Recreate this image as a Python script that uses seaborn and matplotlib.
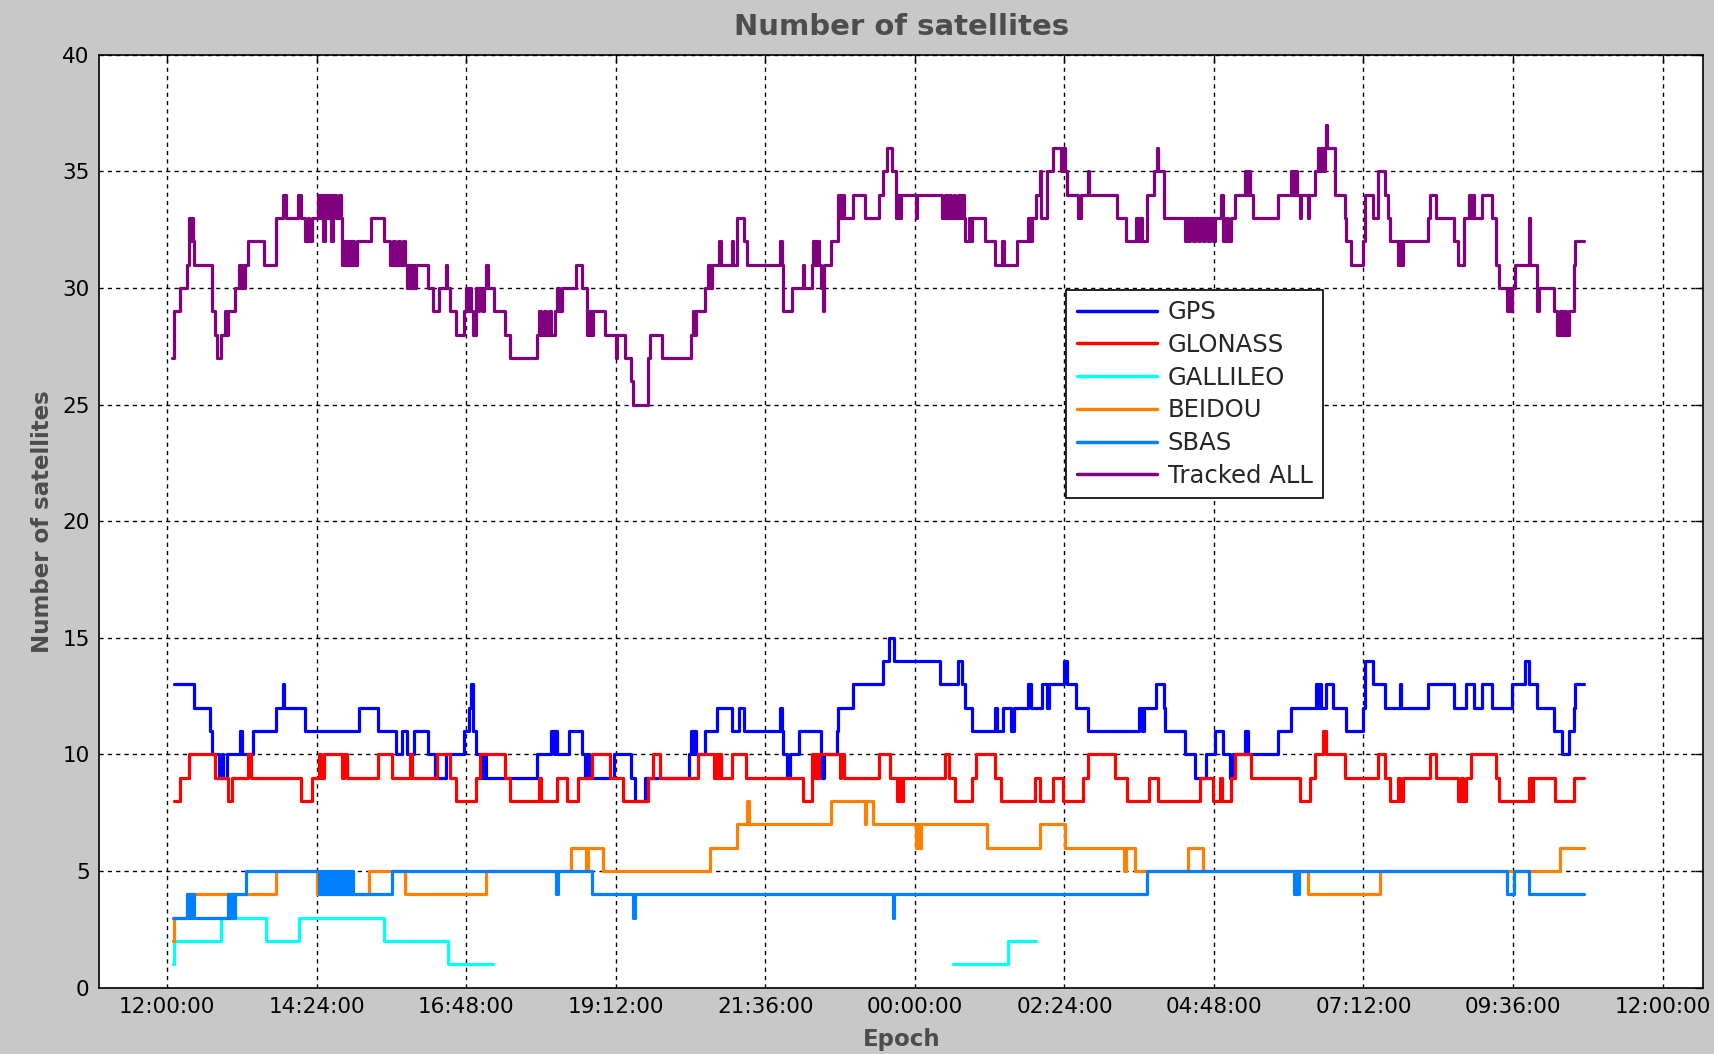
import numpy as np
import pandas as pd
import seaborn as sns
import matplotlib.pyplot as plt

# Step series: (hours after 12:00:00, number of satellites)
gps_steps = [
    (0.10, 13), (0.43, 12), (0.69, 11), (0.72, 10), (0.83, 9), (0.87, 10), (0.90, 9), (0.95, 10),
    (1.16, 11), (1.19, 10), (1.38, 11), (1.75, 12), (1.85, 13), (1.88, 12), (2.21, 11), (3.07, 12),
    (3.38, 11), (3.67, 10), (3.76, 11), (3.84, 10), (3.96, 11), (4.19, 10), (4.30, 9), (4.47, 10),
    (4.76, 11), (4.84, 12), (4.87, 13), (4.90, 11), (4.96, 10), (5.05, 9), (5.08, 10), (5.11, 9),
    (5.93, 10), (6.16, 11), (6.21, 10), (6.23, 11), (6.25, 10), (6.45, 11), (6.65, 10), (6.71, 9),
    (6.74, 10), (6.77, 9), (7.17, 10), (7.45, 9), (7.51, 8), (7.67, 9), (8.37, 10), (8.40, 11),
    (8.43, 10), (8.46, 11), (8.48, 10), (8.63, 11), (8.83, 12), (9.06, 11), (9.17, 12), (9.26, 11),
    (9.83, 12), (9.86, 11), (9.89, 10), (9.94, 9), (10.00, 10), (10.14, 11), (10.49, 10), (10.51, 9),
    (10.54, 10), (10.75, 11), (10.77, 12), (11.00, 13), (11.49, 14), (11.58, 15), (11.66, 14),
    (12.41, 13), (12.69, 14), (12.75, 13), (12.81, 12), (12.92, 11), (13.29, 12), (13.32, 11),
    (13.41, 12), (13.55, 11), (13.59, 12), (13.81, 13), (13.87, 12), (14.04, 13), (14.12, 12),
    (14.15, 13), (14.40, 14), (14.44, 13), (14.58, 12), (14.78, 11), (15.59, 12), (15.65, 11),
    (15.68, 12), (15.87, 13), (15.99, 12), (16.01, 11), (16.33, 10), (16.50, 9), (16.68, 10),
    (16.82, 11), (16.95, 10), (17.06, 9), (17.11, 10), (17.30, 11), (17.34, 10), (17.83, 11),
    (18.04, 12), (18.44, 13), (18.47, 12), (18.50, 13), (18.52, 12), (18.60, 13), (18.71, 12),
    (18.92, 11), (19.19, 12), (19.22, 14), (19.35, 13), (19.54, 12), (19.78, 13), (19.81, 12),
    (20.23, 13), (20.66, 12), (20.84, 13), (20.98, 12), (21.11, 13), (21.27, 12), (21.59, 13),
    (21.80, 14), (21.86, 13), (21.99, 12), (22.26, 11), (22.39, 10), (22.50, 11), (22.58, 12),
    (22.60, 13), (22.74, 13),
]

glonass_steps = [
    (0.10, 8), (0.20, 9), (0.34, 10), (0.77, 9), (0.97, 8), (1.03, 9), (1.29, 10), (1.35, 9),
    (2.15, 8), (2.32, 9), (2.44, 10), (2.47, 9), (2.52, 10), (2.80, 9), (2.83, 10), (2.88, 9),
    (3.38, 10), (3.61, 9), (3.90, 10), (3.93, 9), (4.33, 10), (4.53, 9), (4.64, 8), (4.96, 9),
    (5.02, 10), (5.42, 9), (5.50, 8), (5.96, 9), (5.99, 8), (6.25, 9), (6.42, 8), (6.59, 9),
    (6.82, 10), (7.11, 9), (7.31, 8), (7.71, 9), (7.80, 10), (7.91, 9), (8.51, 10), (8.77, 9),
    (8.80, 10), (8.83, 9), (8.86, 10), (8.88, 9), (9.06, 10), (9.29, 9), (10.20, 8), (10.34, 10),
    (10.37, 9), (10.40, 10), (10.43, 9), (10.46, 10), (10.80, 9), (10.82, 10), (10.86, 9),
    (11.43, 10), (11.60, 9), (11.72, 8), (11.75, 9), (11.77, 8), (11.81, 9), (12.49, 10),
    (12.55, 9), (12.64, 8), (12.92, 9), (12.98, 10), (13.29, 9), (13.38, 8), (13.92, 9), (14.01, 8),
    (14.21, 9), (14.38, 8), (14.70, 9), (14.78, 10), (15.21, 9), (15.41, 8), (15.76, 9), (15.90, 8),
    (16.58, 9), (16.79, 8), (16.90, 9), (16.93, 8), (17.08, 9), (17.14, 10), (17.40, 9), (18.18, 8),
    (18.34, 9), (18.42, 10), (18.55, 11), (18.60, 10), (18.90, 9), (19.43, 10), (19.54, 9),
    (19.62, 8), (19.76, 9), (19.79, 8), (19.83, 9), (20.26, 10), (20.36, 9), (20.71, 8), (20.76, 9),
    (20.79, 8), (20.84, 9), (20.92, 10), (21.32, 9), (21.38, 8), (21.86, 9), (21.89, 8), (21.92, 9),
    (22.28, 8), (22.58, 9), (22.74, 9),
]

galileo_steps_a = [(0.09, 1), (0.11, 2), (0.86, 3), (1.58, 2), (2.12, 3), (3.47, 2), (4.50, 1), (5.22, 1)]
galileo_steps_b = [(12.61, 1), (13.49, 2), (13.95, 2)]

beidou_steps = [
    (0.09, 2), (0.10, 3), (0.32, 4), (1.75, 5), (2.40, 4), (3.24, 5), (3.81, 4), (5.11, 5),
    (6.48, 6), (6.72, 5), (6.75, 6), (7.00, 5), (8.71, 6), (9.14, 7), (9.31, 8), (9.34, 7),
    (10.66, 8), (11.20, 7), (11.22, 8), (11.32, 7), (12.01, 6), (12.04, 7), (12.06, 6), (12.09, 7),
    (13.15, 6), (14.01, 7), (14.41, 6), (15.36, 5), (15.38, 6), (15.53, 5), (16.39, 6), (16.63, 5),
    (18.31, 4), (19.46, 5), (22.36, 6), (22.74, 6),
]

sbas_steps = [
    (0.09, 3), (0.32, 4), (0.34, 3), (0.36, 4), (0.38, 3), (0.40, 4), (0.43, 3), (0.97, 4),
    (1.00, 3), (1.03, 4), (1.06, 3), (1.09, 4), (1.26, 5), (2.44, 4), (2.47, 5), (2.50, 4),
    (2.53, 5), (2.56, 4), (2.59, 5), (2.62, 4), (2.65, 5), (2.68, 4), (2.71, 5), (2.74, 4),
    (2.77, 5), (2.80, 4), (2.83, 5), (2.86, 4), (2.89, 5), (2.92, 4), (2.95, 5), (2.98, 4),
    (3.61, 5), (6.24, 4), (6.27, 5), (6.82, 4), (7.47, 3), (7.50, 4), (11.64, 3), (11.67, 4),
    (15.73, 5), (18.09, 4), (18.12, 5), (18.14, 4), (18.17, 5), (21.51, 4), (21.62, 5), (21.86, 4),
    (22.74, 4),
]

all_steps = [
    (0.08, 27), (0.10, 29), (0.20, 30), (0.32, 31), (0.34, 33), (0.37, 32), (0.39, 33), (0.41, 32),
    (0.43, 31), (0.72, 29), (0.77, 28), (0.80, 27), (0.86, 28), (0.92, 29), (0.94, 28), (0.98, 29),
    (1.09, 30), (1.15, 31), (1.18, 30), (1.20, 31), (1.22, 30), (1.24, 31), (1.29, 32), (1.55, 31),
    (1.75, 33), (1.86, 34), (1.90, 33), (2.10, 34), (2.15, 33), (2.21, 32), (2.25, 33), (2.28, 32),
    (2.32, 33), (2.41, 34), (2.44, 33), (2.47, 34), (2.50, 32), (2.53, 34), (2.56, 33), (2.60, 34),
    (2.63, 32), (2.66, 34), (2.70, 33), (2.75, 34), (2.78, 33), (2.81, 31), (2.84, 32), (2.87, 31),
    (2.90, 32), (2.93, 31), (2.96, 32), (3.00, 31), (3.05, 32), (3.27, 33), (3.47, 32), (3.58, 31),
    (3.62, 32), (3.65, 31), (3.70, 32), (3.73, 31), (3.78, 32), (3.81, 31), (3.84, 30), (3.87, 31),
    (3.90, 30), (3.93, 31), (3.96, 30), (3.99, 31), (4.19, 30), (4.27, 29), (4.36, 30), (4.47, 31),
    (4.49, 30), (4.53, 29), (4.64, 28), (4.76, 29), (4.79, 30), (4.82, 29), (4.85, 30), (4.88, 29),
    (4.91, 28), (4.95, 30), (4.98, 29), (5.01, 30), (5.05, 29), (5.08, 30), (5.12, 31), (5.14, 30),
    (5.25, 29), (5.42, 28), (5.50, 27), (5.93, 28), (5.96, 29), (5.99, 28), (6.05, 29), (6.08, 28),
    (6.12, 29), (6.15, 28), (6.22, 29), (6.25, 30), (6.28, 29), (6.33, 30), (6.56, 31), (6.66, 30),
    (6.74, 28), (6.77, 29), (6.80, 28), (6.83, 29), (7.02, 28), (7.20, 27), (7.22, 28), (7.34, 27),
    (7.45, 26), (7.48, 25), (7.71, 27), (7.74, 28), (7.94, 27), (8.40, 28), (8.43, 29), (8.46, 28),
    (8.49, 29), (8.63, 30), (8.68, 31), (8.71, 30), (8.74, 31), (8.86, 32), (8.88, 31), (9.06, 32),
    (9.08, 31), (9.14, 33), (9.26, 32), (9.31, 31), (9.83, 32), (9.86, 31), (9.89, 29), (10.03, 30),
    (10.20, 31), (10.22, 30), (10.34, 31), (10.37, 32), (10.40, 31), (10.43, 32), (10.46, 31),
    (10.50, 30), (10.53, 29), (10.54, 31), (10.66, 32), (10.77, 34), (10.80, 33), (10.83, 34),
    (10.86, 33), (11.00, 34), (11.20, 33), (11.43, 34), (11.49, 35), (11.55, 36), (11.63, 35),
    (11.69, 33), (11.72, 34), (11.75, 33), (11.78, 34), (12.01, 33), (12.04, 34), (12.44, 33),
    (12.48, 34), (12.51, 33), (12.55, 34), (12.58, 33), (12.62, 34), (12.65, 33), (12.69, 34),
    (12.72, 33), (12.75, 34), (12.78, 33), (12.81, 32), (12.86, 33), (12.88, 32), (12.92, 33),
    (13.12, 32), (13.29, 31), (13.40, 32), (13.43, 31), (13.64, 32), (13.81, 33), (13.85, 32),
    (13.88, 33), (13.95, 34), (14.00, 35), (14.02, 33), (14.12, 35), (14.21, 36), (14.35, 35),
    (14.38, 36), (14.41, 35), (14.44, 34), (14.61, 33), (14.67, 34), (14.77, 35), (14.79, 34),
    (15.24, 33), (15.38, 32), (15.55, 33), (15.58, 32), (15.62, 33), (15.65, 32), (15.73, 34),
    (15.84, 35), (15.88, 36), (15.90, 35), (16.00, 33), (16.33, 32), (16.36, 33), (16.39, 32),
    (16.42, 33), (16.46, 32), (16.50, 33), (16.54, 32), (16.58, 33), (16.62, 32), (16.66, 33),
    (16.70, 32), (16.74, 33), (16.78, 32), (16.82, 33), (16.92, 34), (16.95, 32), (17.00, 33),
    (17.03, 32), (17.08, 33), (17.14, 34), (17.30, 35), (17.33, 34), (17.36, 35), (17.38, 34),
    (17.43, 33), (17.83, 34), (18.04, 35), (18.07, 34), (18.10, 35), (18.13, 34), (18.18, 33),
    (18.20, 34), (18.31, 33), (18.33, 34), (18.42, 35), (18.47, 36), (18.50, 35), (18.53, 36),
    (18.56, 35), (18.58, 36), (18.60, 37), (18.62, 36), (18.74, 34), (18.90, 33), (18.92, 32),
    (19.00, 31), (19.19, 32), (19.22, 34), (19.35, 33), (19.43, 35), (19.54, 34), (19.59, 33),
    (19.62, 32), (19.75, 31), (19.78, 32), (19.80, 31), (19.83, 32), (20.23, 33), (20.26, 34),
    (20.36, 33), (20.66, 32), (20.71, 31), (20.82, 33), (20.90, 34), (20.93, 33), (20.96, 34),
    (20.98, 33), (21.11, 34), (21.27, 33), (21.32, 31), (21.38, 30), (21.51, 29), (21.54, 30),
    (21.56, 29), (21.59, 30), (21.64, 31), (21.85, 33), (21.88, 31), (21.99, 29), (22.02, 30),
    (22.26, 29), (22.31, 28), (22.35, 29), (22.38, 28), (22.42, 29), (22.45, 28), (22.50, 29),
    (22.58, 31), (22.60, 32), (22.74, 32),
]

systems = ['GPS', 'GLONASS', 'GALLILEO', 'BEIDOU', 'SBAS', 'Tracked ALL']
colors = ['#0000ff', '#ff0000', '#00ffff', '#ff8000', '#0080ff', '#800080']
tick_hours = [0, 2.4, 4.8, 7.2, 9.6, 12, 14.4, 16.8, 19.2, 21.6, 24]
tick_labels = ['12:00:00', '14:24:00', '16:48:00', '19:12:00', '21:36:00', '00:00:00',
               '02:24:00', '04:48:00', '07:12:00', '09:36:00', '12:00:00']

segments = [
    ('GPS', gps_steps), ('GLONASS', glonass_steps), ('GALLILEO', galileo_steps_a),
    ('GALLILEO', galileo_steps_b), ('BEIDOU', beidou_steps), ('SBAS', sbas_steps),
    ('Tracked ALL', all_steps),
]
rows = []
for seg_id, (name, steps) in enumerate(segments):
    for h, n in steps:
        rows.append({'hour': h, 'sats': n, 'system': name, 'segment': seg_id})
df = pd.DataFrame(rows)

sns.set_style('white')
plt.rcParams['font.family'] = ['DejaVu Sans']

fig = plt.figure(figsize=(17.15, 10.54), dpi=100, facecolor='#c8c8c8')
ax = fig.add_axes([0.058, 0.063, 0.935, 0.885])
ax.set_facecolor('white')

sns.lineplot(data=df, x='hour', y='sats', hue='system', units='segment', estimator=None,
             hue_order=systems, palette=dict(zip(systems, colors)),
             drawstyle='steps-post', linewidth=2.3, ax=ax)

ax.set_xlim(-1.09, 24.65)
ax.set_ylim(0, 40)
ax.set_xticks(tick_hours)
ax.set_xticklabels(tick_labels)
ax.set_yticks(range(0, 41, 5))
ax.set_axisbelow(True)
ax.grid(True, color='black', linestyle=(0, (3, 3)), linewidth=1.0)
ax.tick_params(direction='in', length=6, width=1, top=True, right=True,
               labelsize=15.5, pad=7, colors='black')
for sp in ax.spines.values():
    sp.set_visible(True)
    sp.set_color('black')
    sp.set_linewidth(1.2)

ax.set_title('Number of satellites', fontsize=21, fontweight='bold', color='#4d4d4d', pad=14)
ax.set_xlabel('Epoch', fontsize=16.5, fontweight='bold', color='#4d4d4d', labelpad=8)
ax.set_ylabel('Number of satellites', fontsize=16.5, fontweight='bold', color='#4d4d4d', labelpad=6)

old = ax.get_legend()
handles = old.legend_handles
labels = [t.get_text() for t in old.get_texts()]
old.remove()
leg = ax.legend(handles, labels, loc='upper left', bbox_to_anchor=(0.603, 0.748),
                frameon=True, fancybox=False, edgecolor='black', framealpha=1,
                fontsize=17.5, handlelength=3.3, handletextpad=0.45, labelspacing=0.36,
                borderpad=0.42, borderaxespad=0)
leg.get_frame().set_linewidth(1.2)
for h in leg.legend_handles:
    h.set_linewidth(2.5)

fig.savefig('out.png', dpi=100, facecolor=fig.get_facecolor())
